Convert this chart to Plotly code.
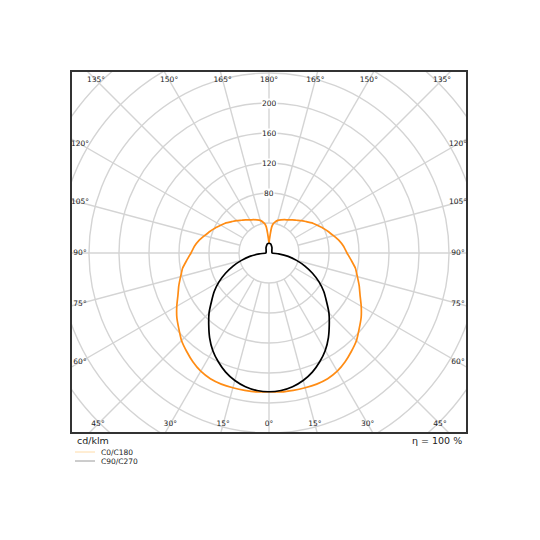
import numpy as np
import plotly.graph_objects as go

# gamma angles (deg) and luminous intensity (cd/klm)
gamma_c0 = [0, 5, 10, 15, 20, 25, 30, 35, 40, 45, 50, 55, 60, 65, 70, 75, 80, 85, 90,
            95, 100, 105, 110, 115, 120, 125, 130, 135, 140, 145, 150, 155, 160, 165,
            170, 172, 174, 176, 178, 180]
c0_c180 = [185, 186, 186, 186, 186, 185, 182, 177, 171, 165, 157, 150, 142, 134, 128, 122, 117, 110, 104,
           100, 95, 89, 84, 79, 74, 70, 65, 61, 57, 54, 51, 49, 47, 45,
           41, 39, 35, 26, 18, 13]

gamma_c90 = [0, 5, 10, 15, 20, 25, 30, 35, 40, 45, 50, 55, 60, 65, 70, 75, 80, 85, 90,
             100, 110, 120, 130, 140, 150, 160, 170, 180]
c90_c270 = [185, 184, 181, 176, 169, 160, 150, 138, 125, 113, 100, 89, 77, 64, 51, 38, 26, 13, 4,
            4, 4, 4.5, 5, 6, 8, 10, 12.5, 13]

ring_values = [40, 80, 120, 160, 200, 240, 280, 320, 360]
ring_labels = [80, 120, 160, 200]
angle_ticks = list(range(0, 181, 15))

scale = 0.75  # px per cd/klm
xr = [-197 / scale, 197 / scale]
yr = [-179 / scale, 181 / scale]

# page has a small body margin, shift the plot area to compensate
ML, MT = 64, 64
W, H = 394, 360


def closed_curve(g, r):
    g = np.radians(np.array(g, dtype=float))
    r = np.array(r, dtype=float)
    x = np.concatenate([-(r * np.sin(g))[::-1], (r * np.sin(g))[1:]])
    y = np.concatenate([-(r * np.cos(g))[::-1], -(r * np.cos(g))[1:]])
    return x, y


fig = go.Figure()

# polar grid
grid = '#d4d4d4'
for r in ring_values:
    fig.add_shape(type='circle', xref='x', yref='y', x0=-r, y0=-r, x1=r, y1=r,
                  line=dict(color=grid, width=1.4), layer='below')
for a in range(0, 360, 15):
    t = np.radians(a)
    fig.add_shape(type='line', xref='x', yref='y',
                  x0=40 * np.sin(t), y0=-40 * np.cos(t),
                  x1=420 * np.sin(t), y1=-420 * np.cos(t),
                  line=dict(color=grid, width=1.4), layer='below')

# angle labels on an inset rectangle
inset = 8 / scale
lx, ly, lt = [], [], []
for g in angle_ticks:
    for side in ([1] if g in (0, 180) else [-1, 1]):
        t = np.radians(g)
        dx, dy = side * np.sin(t), -np.cos(t)
        cands = []
        if dx > 1e-9:
            cands.append((xr[1] - inset) / dx)
        if dx < -1e-9:
            cands.append((xr[0] + inset) / dx)
        if dy > 1e-9:
            cands.append((yr[1] - inset) / dy)
        if dy < -1e-9:
            cands.append((yr[0] + inset) / dy)
        k = min(cands)
        lx.append(k * dx)
        ly.append(k * dy)
        lt.append(f'{g}°')
fig.add_trace(go.Scatter(x=lx, y=ly, mode='text', text=lt, cliponaxis=True,
                         textfont=dict(family='DejaVu Sans', size=7.5, color='#222'),
                         hoverinfo='skip', showlegend=False))

# curves
x0, y0 = closed_curve(gamma_c0, c0_c180)
fig.add_trace(go.Scatter(x=x0, y=y0, mode='lines', name='C0/C180',
                         line=dict(color='#ff8c14', width=1.7, shape='spline', smoothing=0.5),
                         showlegend=False))
x1, y1 = closed_curve(gamma_c90, c90_c270)
fig.add_trace(go.Scatter(x=x1, y=y1, mode='lines', name='C90/C270',
                         line=dict(color='#000000', width=1.7, shape='spline', smoothing=0.5),
                         showlegend=False))

# radial labels
for v in ring_labels:
    fig.add_annotation(x=0, y=v, text=str(v), showarrow=False, bgcolor='white',
                       borderpad=0, font=dict(family='DejaVu Sans', size=7.5, color='#222'))


# footer texts (positions given in reference pixels)
def px_x(p):
    return (p - 72) / W


def px_y(p):
    return (432 - p) / H


fig.add_annotation(x=px_x(75), y=px_y(440), xref='paper', yref='paper', text='cd/klm',
                   showarrow=False, xanchor='left', yanchor='middle',
                   font=dict(family='DejaVu Sans', size=9.5, color='#222'))
fig.add_annotation(x=px_x(464), y=px_y(440), xref='paper', yref='paper', text='η = 100 %',
                   showarrow=False, xanchor='right', yanchor='middle',
                   font=dict(family='DejaVu Sans', size=9.5, color='#222'))

# legend
for name, col, yy in [('C0/C180', '#ffdca8', 452), ('C90/C270', '#9a9a9a', 461)]:
    fig.add_shape(type='line', xref='paper', yref='paper', x0=px_x(75), x1=px_x(95),
                  y0=px_y(yy), y1=px_y(yy), line=dict(color=col, width=1))
    fig.add_annotation(x=px_x(99), y=px_y(yy), xref='paper', yref='paper', text=name,
                       showarrow=False, xanchor='left', yanchor='middle',
                       font=dict(family='DejaVu Sans', size=7.5, color='#222'))

fig.update_xaxes(range=xr, showgrid=False, zeroline=False, showticklabels=False, ticks='',
                 showline=True, mirror=True, linecolor='#333', linewidth=1.8)
fig.update_yaxes(range=yr, showgrid=False, zeroline=False, showticklabels=False, ticks='',
                 showline=True, mirror=True, linecolor='#333', linewidth=1.8)

fig.update_layout(width=540, height=540,
                  margin=dict(l=ML, r=540 - ML - W, t=MT, b=540 - MT - H),
                  plot_bgcolor='white', paper_bgcolor='white', showlegend=False)

fig.write_html("out.html")
